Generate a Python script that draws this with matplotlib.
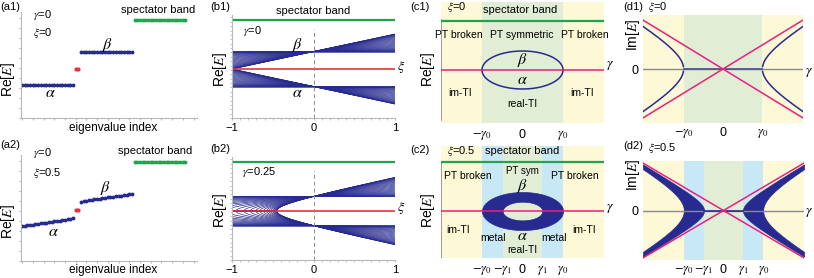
import numpy as np
import matplotlib.pyplot as plt

W, H = 814, 278
plt.rcParams['font.family'] = ['Liberation Sans', 'DejaVu Sans']
plt.rcParams['mathtext.fontset'] = 'stix'

navy = '#272b8f'
red = '#e8323c'
green = '#1da64f'
magenta = '#e8207f'
yellow_bg = '#fdf8d5'
green_bg = '#e2edd5'
blue_bg = '#c9e8f5'
gray = '#8a8a8a'
light = '#b8b8b8'

# (a) eigenvalues vs index, heights in px-like units above the x axis
a1_alpha = [33.0] * 20
a1_red = [49.0, 49.0]
a1_beta = [66.0] * 20
a1_green = [98.0] * 20
a2_alpha = [35.0, 35.3, 35.7, 36.1, 36.5, 36.9, 37.3, 37.7, 38.1, 38.5,
            38.9, 39.3, 39.7, 40.1, 40.5, 40.9, 41.4, 41.9, 42.4, 43.0]
a2_red = [51.0, 51.0]
a2_beta = [59.0, 59.6, 60.1, 60.6, 61.1, 61.6, 62.0, 62.4, 62.8, 63.2,
           63.6, 64.0, 64.4, 64.8, 65.2, 65.5, 65.9, 66.3, 66.6, 67.0]
a2_green = [99.0] * 20

# (b) band fans vs xi; effective gain/loss for the two panels
b_gamma = [0.0, 0.55]
spectator_E = 2.8
n_lines = 30

# (c),(d) vs gamma, gamma0 = 1
gamma0 = 1.0
gamma1 = 0.49
g_edge = 2.01


def ax_px(x0, y0, x1, y1):
    return fig.add_axes([x0 / W, 1 - y1 / H, (x1 - x0) / W, (y1 - y0) / H])


def txt(x, y, s, size=8, **kw):
    kw.setdefault('ha', 'left')
    fig.text(x / W, 1 - y / H, s, va='center', fontsize=size, **kw)


fig = plt.figure(figsize=(W / 100, H / 100), dpi=100)

# ---------------- (a1), (a2) ----------------
for row, (al, rd, be, gr) in enumerate([(a1_alpha, a1_red, a1_beta, a1_green),
                                        (a2_alpha, a2_red, a2_beta, a2_green)]):
    top = 12 if row == 0 else 155
    ax = ax_px(21, top, 197, top + 106)
    idx = np.arange(len(al) + len(rd) + len(be) + len(gr))
    i0 = len(al)
    i1 = i0 + len(rd)
    i2 = i1 + len(be)
    ax.plot(idx[:i0], al, 'o', ms=1.8, color=navy)
    ax.plot(idx[i0:i1], rd, 'o', ms=2.0, color=red)
    ax.plot(idx[i1:i2], be, 'o', ms=1.8, color=navy)
    ax.plot(idx[i2:], gr, 'o', ms=1.8, color=green)
    ax.set_xlim(-0.4, 65.3)
    ax.set_ylim(0, 106)
    for s in ['top', 'right']:
        ax.spines[s].set_visible(False)
    for s in ['left', 'bottom']:
        ax.spines[s].set_color(light)
        ax.spines[s].set_linewidth(0.8)
    ax.set_xticks(np.arange(0, 66, 4))
    ax.set_yticks(np.arange(0, 106, 10))
    ax.tick_params(length=1.5, color=light, labelbottom=False, labelleft=False)
    ax.patch.set_alpha(0)

txt(0, 7, '(a1)')
txt(33, 15, r'$\gamma$=0')
txt(33, 33, r'$\xi$=0')
txt(158, 10, 'spectator band', ha='center')
txt(107, 45, r'$\beta$', size=11.5, ha='center')
txt(50, 93, r'$\alpha$', size=11.5, ha='center')
txt(113, 128, 'eigenvalue index', size=8.5, ha='center')
txt(8, 80, r'Re[$E$]', size=10, ha='center', rotation=90)

txt(0, 145, '(a2)')
txt(33, 153, r'$\gamma$=0')
txt(33, 173, r'$\xi$=0.5')
txt(155, 151, 'spectator band', ha='center')
txt(105, 188, r'$\beta$', size=11.5, ha='center')
txt(53, 231, r'$\alpha$', size=11.5, ha='center')
txt(113, 270, 'eigenvalue index', size=8.5, ha='center')
txt(8, 222, r'Re[$E$]', size=10, ha='center', rotation=90)

# ---------------- (b1), (b2) ----------------
xi = np.linspace(-1, 1, 401)
weights = (1 - np.cos(np.pi * np.arange(n_lines) / (n_lines - 1))) / 2
for row, g in enumerate(b_gamma):
    top = 15 if row == 0 else 157
    ax = ax_px(232, top, 395, top + 103)
    for c in weights:
        E = np.real(np.sqrt((1 + xi * c) ** 2 - g ** 2 + 0j))
        ax.plot(xi, E, color=navy, lw=0.5)
        ax.plot(xi, -E, color=navy, lw=0.5)
    ax.axhline(0, color=red, lw=1.2)
    ax.axhline(spectator_E, color=green, lw=1.6)
    ax.plot([0, 0], [-2.8, 2.29], color=gray, lw=0.7, dashes=(4, 3))
    ax.set_xlim(-1, 1)
    ax.set_ylim(-2.8, 3.09)
    for s in ['top', 'right']:
        ax.spines[s].set_visible(False)
    for s in ['left', 'bottom']:
        ax.spines[s].set_color(light)
        ax.spines[s].set_linewidth(0.8)
    ax.set_xticks([-1, 0, 1])
    ax.set_xticks(np.arange(-1, 1.01, 0.1), minor=True)
    ax.set_yticks(np.arange(-2.8, 3.0, 0.25), minor=True)
    ax.set_yticks([])
    ax.tick_params(which='both', length=1.5, color=light, labelsize=8, pad=2)
    ax.patch.set_alpha(0)

txt(210, 7, '(b1)')
txt(313, 11, 'spectator band', ha='center')
txt(243, 31, r'$\gamma$=0')
txt(297, 45, r'$\beta$', size=11.5, ha='center')
txt(297, 93, r'$\alpha$', size=11.5, ha='center')
txt(401, 67, r'$\xi$', size=10, ha='center')
txt(220, 70, r'Re[$E$]', size=10, ha='center', rotation=90)

txt(210, 149, '(b2)')
txt(242, 172, r'$\gamma$=0.25')
txt(401, 208, r'$\xi$', size=10, ha='center')
txt(220, 211, r'Re[$E$]', size=10, ha='center', rotation=90)

# ---------------- (c1), (c2) ----------------
gam = np.linspace(-gamma0, gamma0, 401)
outer = np.sqrt(np.clip(gamma0 ** 2 - gam ** 2, 0, None))
inner = np.sqrt(np.clip(gamma1 ** 2 - gam ** 2, 0, None))

for row in range(2):
    if row == 0:
        ax = ax_px(441, 2, 604, 123)
        ylim = (-2.79, 3.58)
    else:
        ax = ax_px(441, 146, 604, 258)
        ylim = (-2.47, 3.42)
    ax.axvspan(-g_edge, -gamma0, color=yellow_bg, lw=0)
    ax.axvspan(gamma0, g_edge, color=yellow_bg, lw=0)
    if row == 0:
        ax.axvspan(-gamma0, gamma0, color=green_bg, lw=0)
        ax.plot(gam, outer, color=navy, lw=1.1)
        ax.plot(gam, -outer, color=navy, lw=1.1)
        ax.plot([-g_edge, -g_edge], [-2.63, 2.63], color=gray, lw=1.2)
    else:
        ax.axvspan(-gamma0, -gamma1, color=blue_bg, lw=0)
        ax.axvspan(gamma1, gamma0, color=blue_bg, lw=0)
        ax.axvspan(-gamma1, gamma1, color=green_bg, lw=0)
        ax.fill_between(gam, inner, outer, color=navy, lw=0.5, ec=navy)
        ax.fill_between(gam, -outer, -inner, color=navy, lw=0.5, ec=navy)
        ax.plot([-g_edge, -g_edge], [-2.47, 2.55], color=gray, lw=1.2)
    ax.axhline(0, color=magenta, lw=1.1)
    ax.axhline(2.58, color=green, lw=1.6)
    ax.set_xlim(-g_edge, g_edge)
    ax.set_ylim(*ylim)
    for s in ax.spines.values():
        s.set_visible(False)
    ax.set_yticks([])
    if row == 0:
        ax.set_xticks([-gamma0, 0, gamma0], [r'$-\gamma_0$', '0', r'$\gamma_0$'])
    else:
        ax.set_xticks([-gamma0, -gamma1, 0, gamma1, gamma0],
                      [r'$-\gamma_0$', r'$-\gamma_1$', '0', r'$\gamma_1$', r'$\gamma_0$'])
    ax.tick_params(length=0, labelsize=9, pad=4)

txt(410, 7, '(c1)')
txt(447, 7, r'$\xi$=0')
txt(520, 10, 'spectator band', ha='center')
txt(459, 35, 'PT broken', size=7.5, ha='center')
txt(522, 35, 'PT symmetric', size=7.5, ha='center')
txt(585, 35, 'PT broken', size=7.5, ha='center')
txt(522, 60, r'$\beta$', size=11.5, ha='center')
txt(522, 80, r'$\alpha$', size=11.5, ha='center')
txt(460, 93, 'im-TI', size=7.5, ha='center')
txt(582, 93, 'im-TI', size=7.5, ha='center')
txt(522, 104, 'real-TI', size=7.5, ha='center')
txt(606, 65, r'$\gamma$', size=10)
txt(428, 70, r'Re[$E$]', size=10, ha='center', rotation=90)

txt(410, 150, '(c2)')
txt(447, 151, r'$\xi$=0.5')
txt(522, 151, 'spectator band', ha='center')
txt(468, 176, 'PT broken', size=7.5, ha='center')
txt(522, 171, 'PT sym', size=7, ha='center')
txt(522, 186, r'$\beta$', size=11.5, ha='center')
txt(575, 176, 'PT broken', size=7.5, ha='center')
txt(458, 230, 'im-TI', size=7.5, ha='center')
txt(493, 238, 'metal', size=7.5, ha='center')
txt(522, 236, r'$\alpha$', size=11.5, ha='center')
txt(554, 238, 'metal', size=7.5, ha='center')
txt(522, 250, 'real-TI', size=7.5, ha='center')
txt(584, 230, 'im-TI', size=7.5, ha='center')
txt(606, 208, r'$\gamma$', size=10)
txt(428, 211, r'Re[$E$]', size=10, ha='center', rotation=90)

# ---------------- (d1), (d2) ----------------
gd = np.linspace(-2.03, 2.03, 801)
hyp0 = np.sqrt(np.clip(gd ** 2 - gamma0 ** 2, 0, None))
hyp1 = np.sqrt(np.clip(gd ** 2 - gamma1 ** 2, 0, None))
for row in range(2):
    if row == 0:
        ax = ax_px(643, 15, 803, 123)
        ylim = 2.24
    else:
        ax = ax_px(643, 161, 804, 260)
        ylim = 2.12
    ax.axvspan(-2.03, -gamma0, color=yellow_bg, lw=0)
    ax.axvspan(gamma0, 2.03, color=yellow_bg, lw=0)
    ax.axhline(0, color=gray, lw=1.0)
    if row == 0:
        ax.axvspan(-gamma0, gamma0, color=green_bg, lw=0)
        for sgn in (1, -1):
            ax.plot(gd[(gd <= -gamma0)], sgn * hyp0[(gd <= -gamma0)], color=navy, lw=1.1)
            ax.plot(gd[(gd >= gamma0)], sgn * hyp0[(gd >= gamma0)], color=navy, lw=1.1)
        ax.plot([-gamma0, gamma0], [0, 0], color='#4a4f8f', lw=1.2)
    else:
        ax.axvspan(-gamma0, -gamma1, color=blue_bg, lw=0)
        ax.axvspan(gamma1, gamma0, color=blue_bg, lw=0)
        ax.axvspan(-gamma1, gamma1, color=green_bg, lw=0)
        for side in (gd <= -gamma1, gd >= gamma1):
            ax.fill_between(gd[side], hyp0[side], hyp1[side], color=navy, lw=0.5, ec=navy)
            ax.fill_between(gd[side], -hyp1[side], -hyp0[side], color=navy, lw=0.5, ec=navy)
        ax.plot([-gamma1, gamma1], [0, 0], color=navy, lw=1.2)
    ax.plot(gd, gd, color=magenta, lw=1.1)
    ax.plot(gd, -gd, color=magenta, lw=1.1)
    ax.set_xlim(-2.03, 2.03)
    ax.set_ylim(-ylim, ylim)
    for s in ax.spines.values():
        s.set_visible(False)
    ax.set_yticks([0])
    if row == 0:
        ax.set_xticks([-gamma0, 0, gamma0], [r'$-\gamma_0$', '0', r'$\gamma_0$'])
    else:
        ax.set_xticks([-gamma0, -gamma1, 0, gamma1, gamma0],
                      [r'$-\gamma_0$', r'$-\gamma_1$', '0', r'$\gamma_1$', r'$\gamma_0$'])
    ax.tick_params(length=0, labelsize=9, pad=3)

txt(623, 7, '(d1)')
txt(648, 7, r'$\xi$=0')
txt(633, 35, r'Im[$E$]', size=10, ha='center', rotation=90)
txt(805, 72, r'$\gamma$', size=10)

txt(623, 146, '(d2)')
txt(648, 148, r'$\xi$=0.5')
txt(633, 175, r'Im[$E$]', size=10, ha='center', rotation=90)
txt(805, 212, r'$\gamma$', size=10)

fig.savefig('out.png', dpi=100)
